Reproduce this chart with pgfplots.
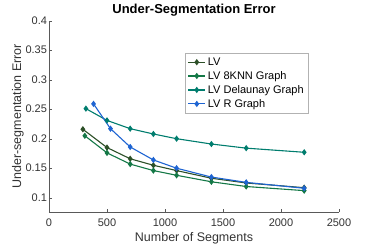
\documentclass[border=0pt]{standalone}
\usepackage{pgfplots}
\pgfplotsset{compat=1.18}
\usepackage{fontspec}
\setmainfont{Liberation Sans}
\definecolor{cLV}{RGB}{45,80,40}
\definecolor{cKNN}{RGB}{20,120,70}
\definecolor{cDel}{RGB}{0,125,110}
\definecolor{cR}{RGB}{30,100,210}
\begin{document}
\begin{tikzpicture}
\begin{axis}[
  name=ax,
  scale only axis, width=290pt, height=191pt,
  xmin=0, xmax=2500, ymin=0.0763, ymax=0.4,
  xtick={0,500,1000,1500,2000,2500},
  ytick={0.1,0.15,0.2,0.25,0.3,0.35,0.4},
  axis lines*=left, axis line style={-, gray!70!black},
  tick align=inside, major tick length=3pt,
  tick style={gray!70!black},
  /pgf/number format/1000 sep={},
  /pgf/number format/assume math mode=true,
  tick label style={font=\fontsize{11}{12}\selectfont, text=black!80},
  xticklabel style={yshift=-3.5pt},
  yticklabel style={xshift=1.5pt},
  xlabel={Number of Segments}, ylabel={Under-segmentation Error},
  label style={font=\fontsize{12.5}{13}\selectfont, text=black!80},
  xlabel style={yshift=1pt}, ylabel style={yshift=-5pt},
  title={\textbf{Under-Segmentation Error}},
  title style={font=\fontsize{13}{14}\selectfont, yshift=-5.5pt},
  legend style={at={(0.469,0.831)}, anchor=north west, font=\fontsize{11}{12}\selectfont, draw=gray!60, row sep=0.5pt, inner sep=2.5pt},
  legend cell align=left,
  every axis plot/.append style={line width=1.1pt, mark=diamond*, mark size=2.3pt},
]
\addplot[cLV, mark options={fill=cLV}] coordinates {(292,0.216)(500,0.185)(700,0.166)(900,0.155)(1100,0.146)(1400,0.133)(1700,0.125)(2200,0.117)};
\addlegendentry{LV}
\addplot[cKNN, mark options={fill=cKNN}] coordinates {(309,0.205)(500,0.176)(700,0.157)(900,0.146)(1100,0.138)(1400,0.127)(1700,0.119)(2200,0.112)};
\addlegendentry{LV 8KNN Graph}
\addplot[cDel, mark options={fill=cDel}] coordinates {(318,0.251)(500,0.231)(700,0.217)(900,0.208)(1100,0.200)(1400,0.191)(1700,0.184)(2200,0.177)};
\addlegendentry{LV Delaunay Graph}
\addplot[cR, mark options={fill=cR}] coordinates {(384,0.259)(530,0.217)(700,0.186)(900,0.164)(1100,0.150)(1400,0.135)(1700,0.126)(2200,0.116)};
\addlegendentry{LV R Graph}
\end{axis}
\path (ax.south west) ++(-49pt,-37pt) coordinate (bl);
\path (ax.north east) ++(35pt,20.7pt) coordinate (tr);
\end{tikzpicture}
\end{document}
